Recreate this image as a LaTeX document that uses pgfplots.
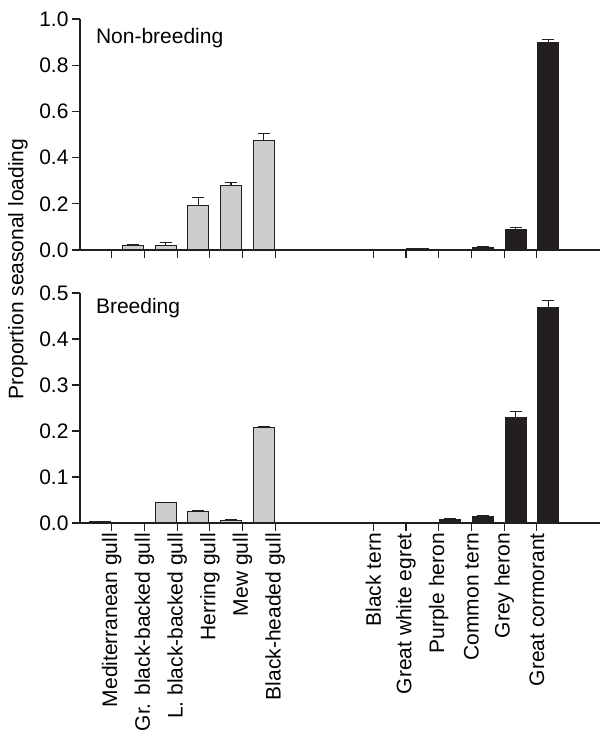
\documentclass[border=0pt]{standalone}
\usepackage{fontspec}
\setmainfont{Liberation Sans}
\usepackage{pgfplots}
\pgfplotsset{compat=1.18}
\usepackage{pgfplotstable}
\definecolor{gullgrey}{RGB}{204,205,207}
\definecolor{darkbar}{RGB}{35,31,32}

\pgfplotstableread{
x y ey
0 0.001 0
1 0.020 0.005
2 0.020 0.013
3 0.192 0.035
4 0.280 0.011
5 0.475 0.029
}\nbgull
\pgfplotstableread{
x y ey
8 0.001 0
9 0.004 0.001
10 0.0005 0
11 0.012 0.002
12 0.087 0.010
13 0.899 0.011
}\nbother
\pgfplotstableread{
x y ey
0 0.002 0
1 0.0005 0
2 0.044 0.001
3 0.0245 0.0025
4 0.006 0.001
5 0.207 0.003
}\bgull
\pgfplotstableread{
x y ey
8 0.001 0
9 0.0005 0
10 0.008 0.001
11 0.0145 0.001
12 0.230 0.012
13 0.469 0.015
}\bother

\newcommand{\tfont}{\fontsize{21}{25}\selectfont}
\newcommand{\lfont}{\fontsize{21}{25}\selectfont}

\pgfplotsset{
  panel/.style={
    scale only axis,
    width=520pt,
    xmin=-0.97, xmax=14.93,
    ymin=0,
    axis lines*=left,
    axis line style={line width=1.2pt, darkbar},
    tick style={line width=1.2pt, darkbar},
    tick align=outside,
    major tick length=8pt,
    xtick={0,1,2,3,4,5,8,9,10,11,12,13},
    xtick pos=bottom, ytick pos=left,
    ybar, bar width=21pt,
    yticklabel style={font=\tfont, text=black, /pgf/number format/fixed, /pgf/number format/fixed zerofill, /pgf/number format/precision=1},
    /pgf/number format/assume math mode=true,
    every axis plot/.append style={line width=1.2pt, draw=darkbar},
    error bars/y dir=plus,
    error bars/y explicit,
    error bars/error bar style={line width=1.2pt, darkbar},
    error bars/error mark options={line width=1.2pt, darkbar, mark size=6pt, rotate=90},
  }
}

\begin{document}
\begin{tikzpicture}
\useasboundingbox (0,0) rectangle (601pt,734pt);
\begin{axis}[panel,
  at={(80pt,484pt)}, anchor=south west,
  height=231pt, ymax=1.0,
  ytick={0,0.2,0.4,0.6,0.8,1.0},
  xticklabels={},
]
\addplot[fill=gullgrey] table[x=x, y=y, y error=ey] {\nbgull};
\addplot[fill=darkbar] table[x=x, y=y, y error=ey] {\nbother};
\node[anchor=base west, font=\lfont] at (rel axis cs:0.024,0.895) {Non-breeding};
\end{axis}
\begin{axis}[panel,
  at={(80pt,211pt)}, anchor=south west,
  height=230pt, ymax=0.5,
  ytick={0,0.1,0.2,0.3,0.4,0.5},
  xticklabels={Mediterranean gull, Gr. black-backed gull, L. black-backed gull, Herring gull, Mew gull, Black-headed gull, Black tern, Great white egret, Purple heron, Common tern, Grey heron, Great cormorant},
  xticklabel style={font=\tfont, text=black, rotate=90, anchor=east, inner sep=2pt},
]
\addplot[fill=gullgrey] table[x=x, y=y, y error=ey] {\bgull};
\addplot[fill=darkbar] table[x=x, y=y, y error=ey] {\bother};
\node[anchor=base west, font=\lfont] at (rel axis cs:0.024,0.913) {Breeding};
\end{axis}
\node[rotate=90, font=\lfont] at (18pt,465pt) {Proportion seasonal loading};
\end{tikzpicture}
\end{document}
